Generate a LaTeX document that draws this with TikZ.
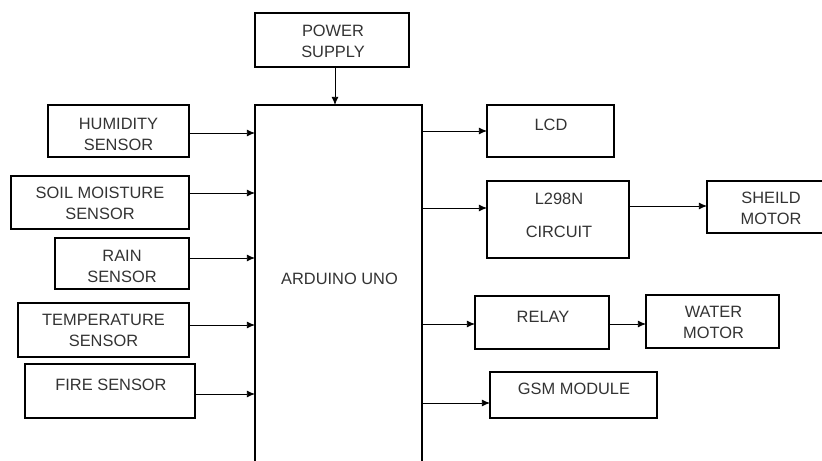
\documentclass[tikz,border=0pt]{standalone}
\usepackage{fontspec}
\setmainfont{Liberation Sans}
\usepackage{tikz}
\usetikzlibrary{arrows.meta, positioning, calc}

\begin{document}
\begin{tikzpicture}[
    x=0.03cm, y=-0.03cm,
    box/.style={
        draw,
        line width=1.5pt,
        anchor=north west,
        inner sep=0pt,
        outer sep=0pt
    },
    lbl/.style={
        font=\fontsize{14}{18}\selectfont,
        text=black!80,
        align=center
    },
    link/.style={
        -{Latex[length=7pt, width=6pt]},
        line width=0.8pt
    }
]
% Page frame
\useasboundingbox (0,0) rectangle (822,461);

% Blocks: name/left/top/width/height
\foreach \n/\x/\y/\w/\h in {pow/255/13/154/54, ard/255/105/167/370,
    hum/48/105/141/52, soil/11/176/178/53, rain/55/238/134/51,
    temp/18/303/171/54, fire/25/364/170/54,
    lcd/487/105/127/52, l298/487/181/142/77, shield/707/181/128/52,
    relay/475/296/134/53, water/646/295/133/53, gsm/490/372/167/46} {
    \node[box, minimum width=\w*0.03cm, minimum height=\h*0.03cm] (\n) at (\x,\y) {};
}

% Block texts, shifted from the block centre
\foreach \n/\dx/\dy/\t in {pow/1/1.5/{POWER\\SUPPLY}, ard/1/-11/{ARDUINO UNO},
    hum/0/3/{HUMIDITY\\SENSOR}, soil/0/1/{SOIL MOISTURE\\SENSOR},
    rain/0/2.5/{RAIN\\SENSOR}, temp/0/0.5/{TEMPERATURE\\SENSOR},
    fire/1/-6/{FIRE SENSOR}, lcd/0.5/-6/{LCD},
    l298/1/-4/{L298N\\[10pt]CIRCUIT}, shield/0/1.5/{SHEILD\\MOTOR},
    relay/1/-5.5/{RELAY}, water/1/1/{WATER\\MOTOR}, gsm/0.5/-6/{GSM MODULE}} {
    \node[lbl] (t\n) at ($(\n.center)+(\dx,\dy)$) {\t};
}

% Supply into the board
\coordinate (cpow) at ($(pow.south)+(3,0)$);
\draw[link] (cpow) -- (cpow |- ard.north);

% Sensor inputs
\foreach \n/\d in {hum/2, soil/-9.5, rain/-5.5, temp/-5, fire/3} {
    \coordinate (s\n) at ($(\n.east)+(0,\d)$);
    \draw[link] (s\n) -- (s\n -| ard.west);
}

% Board outputs
\foreach \n/\d in {lcd/0, l298/-11.5, relay/1.5, gsm/8} {
    \coordinate (o\n) at ($(\n.west)+(0,\d)$);
    \draw[link] (o\n -| ard.east) -- (o\n);
}

% Driver stages
\foreach \a/\b/\d in {l298/shield/-13.5, relay/water/1.5} {
    \coordinate (c\a) at ($(\a.east)+(0,\d)$);
    \draw[link] (c\a) -- (c\a -| \b.west);
}
\end{tikzpicture}
\end{document}
